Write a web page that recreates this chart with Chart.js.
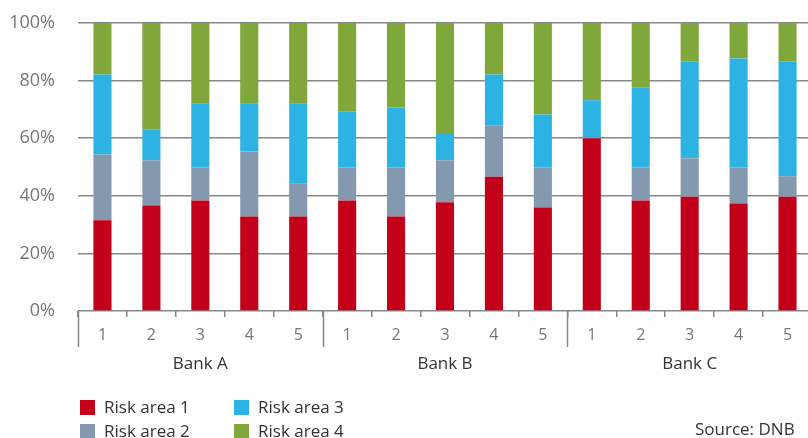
<!DOCTYPE html>
<html>
<head>
<meta charset="utf-8">
<script src="https://cdn.jsdelivr.net/npm/chart.js@4.4.1/dist/chart.umd.min.js"></script>
<style>
  html, body { margin: 0; padding: 0; background: #fff; }
  body { width: 808px; height: 438px; overflow: hidden; position: relative; font-family: "Open Sans", sans-serif; }
  #wrap { position: absolute; left: 0; top: 0; width: 812px; height: 438px; }
  .leg { position: absolute; font-size: 17px; color: #333; line-height: 20px; white-space: nowrap; }
  .leg span { display: inline-block; width: 15px; height: 15px; vertical-align: -2px; margin-right: 9px; }
  #source { position: absolute; left: 695px; top: 419px; font-size: 17px; color: #333; line-height: 20px; white-space: nowrap; }
</style>
</head>
<body>
<div id="wrap"><canvas id="riskChart" width="812" height="438"></canvas></div>
<div id="legend"></div>
<div id="source">Source: DNB</div>
<script>
const banks = ['Bank A', 'Bank B', 'Bank C'];
const categories = ['1', '2', '3', '4', '5', '1', '2', '3', '4', '5', '1', '2', '3', '4', '5'];
const seriesNames = ['Risk area 1', 'Risk area 2', 'Risk area 3', 'Risk area 4'];
const colors = ['#c2001a', '#8499ad', '#2db3e3', '#80a73a'];

const riskArea1 = [31.5, 36.6, 38.4, 32.8, 32.8, 38.4, 32.8, 37.8, 46.6, 35.9, 60.0, 38.4, 39.7, 37.3, 39.7];
const riskArea2 = [22.8, 15.7, 11.5, 22.6, 11.4, 11.5, 17.1, 14.5, 17.9, 14.0, 0, 11.5, 13.3, 12.6, 7.1];
const riskArea3 = [27.8, 10.8, 22.1, 16.6, 27.8, 19.5, 20.8, 9.5, 17.6, 18.3, 13.2, 27.8, 33.6, 37.8, 39.8];
const riskArea4 = [17.9, 36.9, 28.0, 28.0, 28.0, 30.6, 29.3, 38.2, 17.9, 31.8, 26.8, 22.3, 13.4, 12.3, 13.4];

const allSeries = [riskArea1, riskArea2, riskArea3, riskArea4];

// legend, two columns
const legendPos = [[80, 397], [80, 421], [234, 397], [234, 421]];
const legendEl = document.getElementById('legend');
seriesNames.forEach(function(name, i) {
    const d = document.createElement('div');
    d.className = 'leg';
    d.style.left = legendPos[i][0] + 'px';
    d.style.top = legendPos[i][1] + 'px';
    d.innerHTML = '<span style="background:' + colors[i] + '"></span>' + name;
    legendEl.appendChild(d);
});

// long separators between banks and the bank names
const groupPlugin = {
    id: 'groupPlugin',
    afterDraw: function(chart) {
        const xs = chart.scales.x;
        const ctx = chart.ctx;
        const step = xs.getPixelForTick(1) - xs.getPixelForTick(0);
        const y0 = chart.chartArea.bottom;
        ctx.save();
        ctx.strokeStyle = '#888';
        ctx.lineWidth = 1.5;
        for (let g = 0; g <= banks.length; g++) {
            const xl = Math.round(xs.getPixelForTick(g * 5) - step / 2) + 0.5;
            ctx.beginPath();
            ctx.moveTo(xl, y0);
            ctx.lineTo(xl, y0 + 36);
            ctx.stroke();
        }
        ctx.fillStyle = '#333';
        ctx.font = '17px "Open Sans"';
        ctx.textAlign = 'center';
        ctx.textBaseline = 'middle';
        banks.forEach(function(b, g) {
            const xc = (xs.getPixelForTick(g * 5) + xs.getPixelForTick(g * 5 + 4)) / 2;
            ctx.fillText(b, xc, y0 + 53);
        });
        ctx.restore();
    }
};

const ctx = document.getElementById('riskChart').getContext('2d');
new Chart(ctx, {
    type: 'bar',
    data: {
        labels: categories,
        datasets: allSeries.map(function(vals, i) {
            return {
                label: seriesNames[i],
                data: vals,
                backgroundColor: colors[i],
                borderWidth: 0,
                barPercentage: 0.37,
                categoryPercentage: 1
            };
        })
    },
    options: {
        responsive: false,
        animation: false,
        devicePixelRatio: 1,
        layout: { padding: { top: 23, left: 0, right: 0, bottom: 0 } },
        plugins: {
            legend: { display: false },
            tooltip: { enabled: false }
        },
        scales: {
            x: {
                stacked: true,
                border: { display: false },
                grid: {
                    display: true,
                    drawOnChartArea: false,
                    offset: true,
                    tickLength: 6,
                    color: '#888',
                    lineWidth: 1.5
                },
                ticks: {
                    color: '#777',
                    font: { family: 'Open Sans', size: 16 },
                    padding: 9,
                    maxRotation: 0,
                    autoSkip: false
                },
                afterFit: function(scale) { scale.height = 127; }
            },
            y: {
                stacked: true,
                min: 0,
                max: 100,
                border: { display: false },
                grid: {
                    color: '#888',
                    lineWidth: 1.5,
                    drawTicks: true,
                    tickLength: 23,
                    tickColor: 'rgba(0,0,0,0)'
                },
                ticks: {
                    stepSize: 20,
                    color: '#777',
                    font: { family: 'Open Sans', size: 18 },
                    padding: 0,
                    callback: function(v) { return v + '%'; }
                },
                afterFit: function(scale) { scale.width = 78; }
            }
        }
    },
    plugins: [groupPlugin]
});
</script>
</body>
</html>
